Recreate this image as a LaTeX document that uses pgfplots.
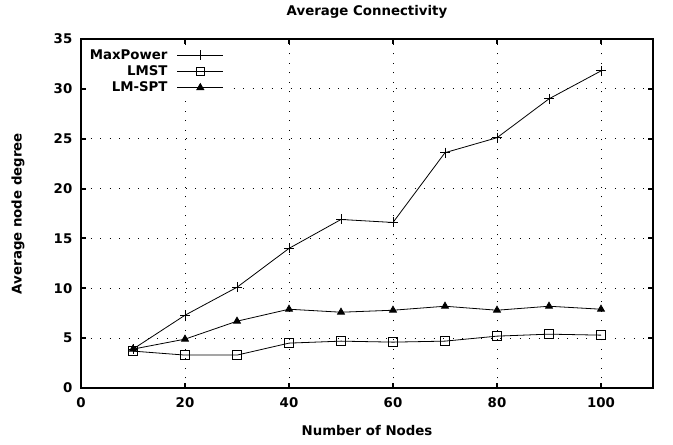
\documentclass[border=0pt]{standalone}
\usepackage{fontspec}
\setmainfont{DejaVu Sans}
\setsansfont{DejaVu Sans}
\usepackage{pgfplots}
\pgfplotsset{compat=1.18}
\begin{document}
\begin{tikzpicture}
\begin{axis}[
  name=ax,
  scale only axis,
  width=429pt, height=261.75pt,
  xmin=0, xmax=110, ymin=0, ymax=35,
  xtick={0,20,40,60,80,100},
  ytick={0,5,10,15,20,25,30,35},
  tick align=inside,
  major tick length=4pt,
  axis line style={line width=1.5pt},
  every tick/.style={black, line width=1.5pt},
  grid=major,
  major grid style={black, line width=0.75pt, dash pattern=on 0.75pt off 6.4pt},
  font=\bfseries\fontsize{10}{11}\selectfont,
  /pgf/number format/assume math mode=true,
  ticklabel style={font=\bfseries\fontsize{10}{11}\selectfont},
  xticklabel style={yshift=-4pt},
  yticklabel style={xshift=-3pt},
  xlabel={Number of Nodes},
  ylabel={Average node degree},
  xlabel style={font=\bfseries\fontsize{10}{11}\selectfont, at={(axis description cs:0.5,-0.1232)}, anchor=center},
  ylabel style={font=\bfseries\fontsize{10}{11}\selectfont, at={(axis description cs:-0.110,0.5)}, anchor=center},
  legend plot pos=right,
  legend cell align=right,
  legend style={draw=none, fill=white, font=\bfseries\fontsize{10}{11}\selectfont, inner sep=1pt, row sep=-0.8pt, at={(0.008,0.982)}, anchor=north west,
    /tikz/every odd column/.append style={column sep=5pt}},
  legend image code/.code={\draw[mark repeat=2,mark phase=2] plot coordinates {(0pt,0pt) (17.25pt,0pt) (34.5pt,0pt)};},
]
\addplot[black, line width=0.6pt, mark=+, mark size=3.75pt, mark options={line width=0.7pt}] coordinates {
(10,3.9) (20,7.3) (30,10.1) (40,14.0) (50,16.9) (60,16.6) (70,23.6) (80,25.1) (90,29.0) (100,31.8)};
\addlegendentry{MaxPower}
\addplot[black, line width=0.6pt, mark=square, mark size=3.2pt, mark options={line width=0.7pt, fill=white}] coordinates {
(10,3.7) (20,3.3) (30,3.3) (40,4.5) (50,4.7) (60,4.6) (70,4.7) (80,5.2) (90,5.4) (100,5.3)};
\addlegendentry{LMST}
\addplot[black, line width=0.6pt, mark=triangle*, mark size=3pt] coordinates {
(10,3.9) (20,4.9) (30,6.7) (40,7.9) (50,7.6) (60,7.8) (70,8.2) (80,7.8) (90,8.2) (100,7.9)};
\addlegendentry{LM-SPT}
\end{axis}
\node[font=\bfseries\fontsize{10}{11}\selectfont, anchor=center] at ([yshift=20.25pt]ax.north) {Average Connectivity};
\pgfresetboundingbox
\path[use as bounding box] ([shift={(-60.75pt,-42.75pt)}]ax.south west) rectangle ([shift={(15pt,29.25pt)}]ax.north east);
\end{tikzpicture}
\end{document}
